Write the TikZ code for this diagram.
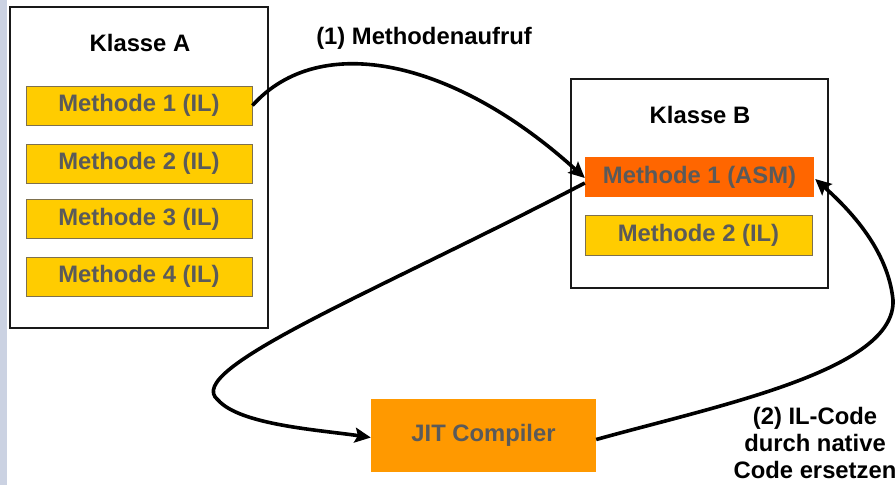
\documentclass[tikz,border=0pt]{standalone}
\usepackage{fontspec}
\setmainfont{Liberation Sans}
\usetikzlibrary{arrows.meta,calc}
\definecolor{strip}{RGB}{203,210,226}
\definecolor{ilyellow}{RGB}{255,204,0}
\definecolor{ilborder}{RGB}{125,112,78}
\definecolor{asmorange}{RGB}{255,102,0}
\definecolor{jitorange}{RGB}{255,153,0}
\definecolor{txtgray}{RGB}{90,90,90}
\definecolor{frame}{RGB}{25,25,25}
\begin{document}
\begin{tikzpicture}[x=1pt,y=-1pt,
  bigfont/.style={font=\fontsize{23.8}{27}\selectfont\bfseries},
  klasse/.style={draw=frame,line width=2pt,fill=white,rectangle,inner sep=0pt},
  ilbox/.style={rectangle,draw=ilborder,line width=0.9pt,fill=ilyellow,text=txtgray,bigfont,inner sep=0pt,minimum height=39pt},
  asmbox/.style={rectangle,fill=asmorange,text=txtgray,bigfont,inner sep=0pt,minimum height=40pt},
  jitbox/.style={rectangle,fill=jitorange,text=txtgray,bigfont,inner sep=0pt},
  title/.style={bigfont,text=black,inner sep=0pt},
  conn/.style={line width=3.6pt,draw=black,-{Stealth[length=16pt,width=15pt,inset=3pt]}}
]
\useasboundingbox (0,0) rectangle (896,485);
\fill[strip] (0,0) rectangle (7,485);

% Klasse A
\node[klasse,minimum width=258pt,minimum height=321pt] (ka) at (139,167.5) {};
\node[title] (tka) at (140,43) {Klasse A};
\node[ilbox,minimum width=226pt] (a1) at (139,105.5) {Methode 1 (IL)};
\node[ilbox,minimum width=226pt] (a2) at (139,163.5) {Methode 2 (IL)};
\node[ilbox,minimum width=226pt] (a3) at (139,219) {Methode 3 (IL)};
\node[ilbox,minimum width=226pt] (a4) at (139,276.5) {Methode 4 (IL)};

% Klasse B
\node[klasse,minimum width=257pt,minimum height=209pt] (kb) at (699.5,183.5) {};
\node[title] (tkb) at (700,115) {Klasse B};
\node[asmbox,minimum width=229pt] (asm) at (699.5,177) {Methode 1 (ASM)};
\node[ilbox,minimum width=227pt,minimum height=40pt] (b2) at (698.5,235) {Methode 2 (IL)};

% JIT
\node[jitbox,minimum width=225pt,minimum height=73pt] (jit) at (483.5,435.5) {JIT Compiler};

% labels
\node[title] (l1) at (424,38) {(1) Methodenaufruf};
\node[title,align=center] (l2) at (815,443) {(2) IL-Code\\durch native\\Code ersetzen};

% connectors
\draw[conn] (a1.east) .. controls (320,30) and (455,60) .. ($(asm.west)+(0,1)$);
\draw[conn] ($(asm.west)+(0,6)$) .. controls (380,290) and (180,370) .. (218,400)
   .. controls (240,425) and (320,430) .. ($(jit.west)+(0,2)$);
\draw[conn] ($(jit.east)+(0,4)$) .. controls (720,405) and (896,370) .. (893,300)
   .. controls (888,250) and (850,210) .. ($(asm.east)+(1,2)$);
\end{tikzpicture}
\end{document}
